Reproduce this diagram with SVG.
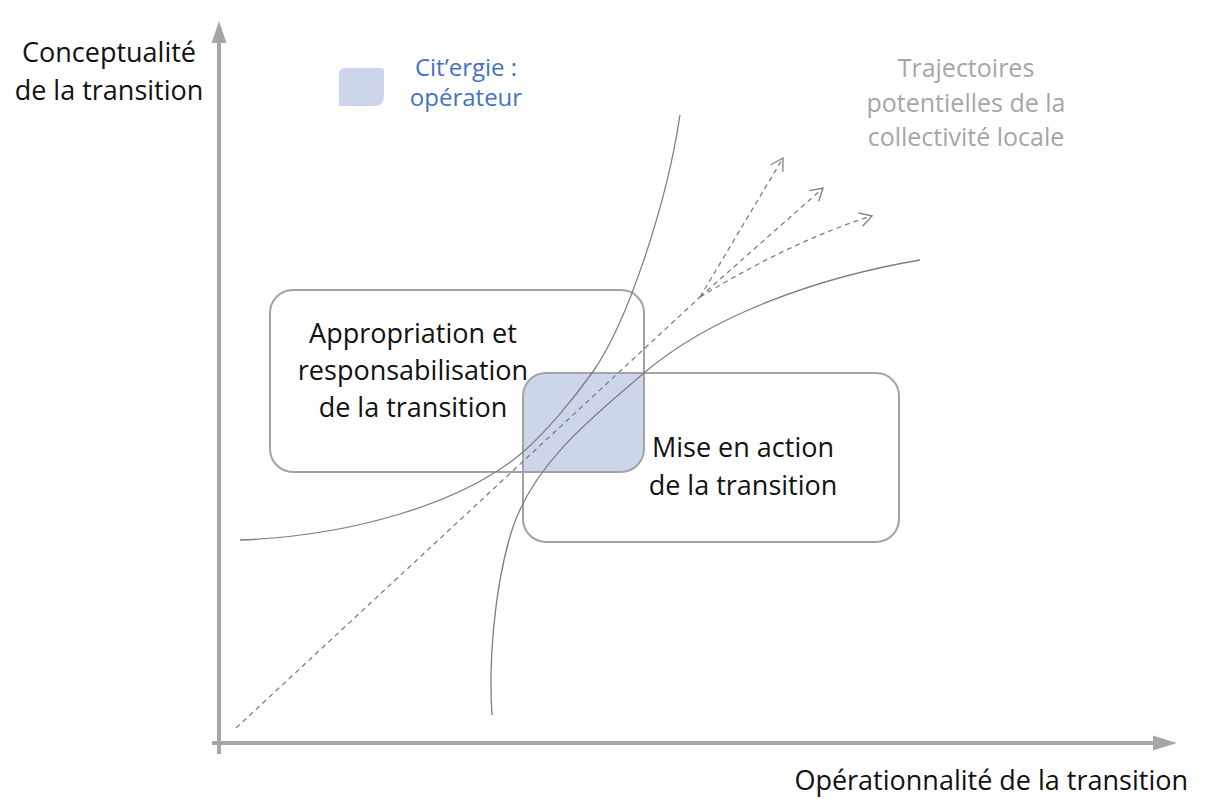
<svg xmlns="http://www.w3.org/2000/svg" width="1212" height="801" viewBox="0 0 1212 801">
  <style>
    .lbl { font-family: "Open Sans", "Noto Sans", "Liberation Sans", sans-serif; fill: #111111; }
    .big { font-size: 27px; }
    .box { fill: none; stroke: #a3a3a3; stroke-width: 2; }
    .axis { stroke: #a6a6a6; stroke-width: 4; fill: none; }
    .axhead { fill: #a6a6a6; }
    .curve { fill: none; stroke: #7f7f7f; stroke-width: 1.3; }
    .traj { fill: none; stroke: #7f7f7f; stroke-width: 1.3; stroke-dasharray: 5 4; }
    .overlap { fill: #cdd5ea; }
  </style>
  <defs>
    <marker id="openArrow" viewBox="0 0 16 16" refX="14" refY="8" markerWidth="16" markerHeight="16" markerUnits="userSpaceOnUse" orient="auto">
      <path d="M2,1 L14,8 L2,15" fill="none" stroke="#7f7f7f" stroke-width="1.3" stroke-dasharray="none"/>
    </marker>
  </defs>
  <rect x="0" y="0" width="1212" height="801" fill="#ffffff"/>

  <!-- axes -->
  <g id="axes">
    <line class="axis" x1="219" y1="754" x2="219" y2="40"/>
    <polygon class="axhead" points="219,21 211.5,43 226.5,43"/>
    <line class="axis" x1="212" y1="743" x2="1156" y2="743"/>
    <polygon class="axhead" points="1177,743 1153,735.5 1153,750.5"/>
    <text class="lbl big" x="109" y="62" text-anchor="middle">Conceptualité</text>
    <text class="lbl big" x="109" y="100" text-anchor="middle">de la transition</text>
    <text class="lbl big" x="1188" y="790" text-anchor="end">Opérationnalité de la transition</text>
  </g>

  <!-- overlap (operator zone) -->
  <g id="overlap">
    <path class="overlap" d="M546,373 H644 V449 A23,23 0 0 1 621,472 H523 V396 A23,23 0 0 1 546,373 Z"/>
  </g>

  <!-- node: appropriation -->
  <g id="node-appropriation">
    <rect class="box" x="270" y="290" width="374" height="182" rx="23" ry="23"/>
    <text class="lbl big" x="413" y="343" text-anchor="middle">Appropriation et</text>
    <text class="lbl big" x="413" y="380" text-anchor="middle">responsabilisation</text>
    <text class="lbl big" x="413" y="417" text-anchor="middle">de la transition</text>
  </g>

  <!-- node: mise en action -->
  <g id="node-mise-en-action">
    <rect class="box" x="523" y="373" width="376" height="169" rx="23" ry="23"/>
    <text class="lbl big" x="743" y="457" text-anchor="middle">Mise en action</text>
    <text class="lbl big" x="743" y="495" text-anchor="middle">de la transition</text>
  </g>

  <!-- legend -->
  <g id="legend">
    <path class="overlap" d="M345,68 H381 Q384,68 384,71 V96 Q384,106 374,106 H339 V74 Q339,68 345,68 Z"/>
    <text class="lbl" x="466" y="76" text-anchor="middle" font-size="24" style="fill:#4472c4">Cit’ergie :</text>
    <text class="lbl" x="466" y="106" text-anchor="middle" font-size="24" style="fill:#4472c4">opérateur</text>
  </g>

  <!-- trajectories label -->
  <g id="trajectories-label">
    <text class="lbl" x="966" y="77" text-anchor="middle" font-size="25" style="fill:#a6a6a6">Trajectoires</text>
    <text class="lbl" x="966" y="112" text-anchor="middle" font-size="25" style="fill:#a6a6a6">potentielles de la</text>
    <text class="lbl" x="966" y="146" text-anchor="middle" font-size="25" style="fill:#a6a6a6">collectivité locale</text>
  </g>

  <!-- connectors -->
  <g id="connectors">
    <path class="curve" d="M680,115 C666.5,205 627,324 592,373 C574.6,397.3 545.8,432.5 523,452 C462,504 350,536 240,540"/>
    <path class="curve" d="M920,260 C820,277 712.6,314.5 644,373 C594.6,415 533,463.5 512,530 C494,587 488.5,665 492,715"/>
    <path class="traj" d="M236,728 L700,297"/>
    <path class="traj" d="M700,297 L783,158" marker-end="url(#openArrow)"/>
    <path class="traj" d="M700,297 L823,188" marker-end="url(#openArrow)"/>
    <path class="traj" d="M700,297 Q794,240 872,216" marker-end="url(#openArrow)"/>
  </g>
</svg>
